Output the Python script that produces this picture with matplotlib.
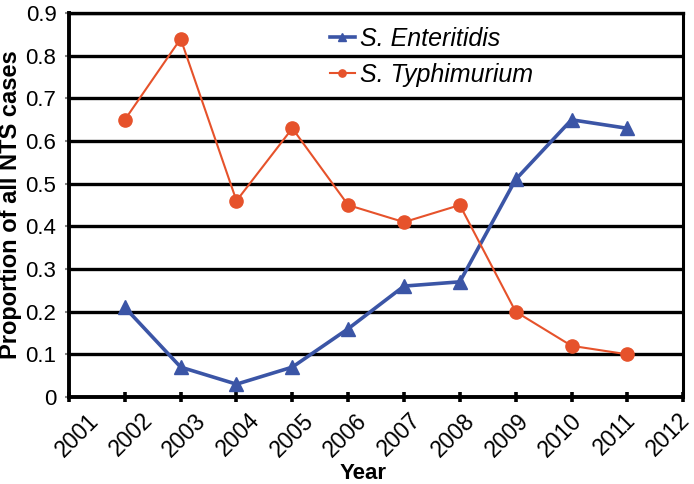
import numpy as np
import matplotlib.pyplot as plt
import matplotlib.transforms as mtrans

plt.rcParams['font.family'] = ['Liberation Sans', 'DejaVu Sans']

# values
years = [2002, 2003, 2004, 2005, 2006, 2007, 2008, 2009, 2010, 2011]
enteritidis = [0.21, 0.07, 0.03, 0.07, 0.16, 0.26, 0.27, 0.51, 0.65, 0.63]
typhimurium = [0.65, 0.84, 0.46, 0.63, 0.45, 0.41, 0.45, 0.20, 0.12, 0.10]
xticks = list(range(2001, 2013))
yticks = [0, 0.1, 0.2, 0.3, 0.4, 0.5, 0.6, 0.7, 0.8, 0.9]
ylabels = ['0', '0.1', '0.2', '0.3', '0.4', '0.5', '0.6', '0.7', '0.8', '0.9']

blue = '#3b55a6'
orange = '#e6522b'

fig = plt.figure(figsize=(6.94, 4.84), dpi=100)
ax = fig.add_axes([0.0994, 0.1798, 0.885, 0.793])

# thick black horizontal grid lines
for y in yticks[1:]:
    ax.axhline(y, color='black', lw=2.4, zorder=1)

ax.plot(years, enteritidis, color=blue, lw=2.6, marker='^', ms=10.5,
        label='S. Enteritidis', zorder=3)
ax.plot(years, typhimurium, color=orange, lw=1.5, marker='o', ms=9.5,
        label='S. Typhimurium', zorder=3)

ax.set_xlim(2001, 2012)
ax.set_ylim(0, 0.9)
ax.set_xticks(xticks)
ax.set_xticklabels([])
# year labels drawn by hand: in the original they drift left of their ticks
# a little more with every year
for i, x in enumerate(xticks):
    off = mtrans.ScaledTranslation((26 - 2.1 * i) / 100, -20 / 100, fig.dpi_scale_trans)
    ax.text(x, 0, str(x), transform=ax.get_xaxis_transform() + off,
            rotation=45, ha='right', va='center', rotation_mode='anchor',
            fontsize=16.5, clip_on=False)
ax.set_yticks(yticks)
ax.set_yticklabels(ylabels, fontsize=16)
ax.tick_params(axis='x', direction='inout', length=7, width=2.6)
ax.tick_params(axis='y', direction='out', length=3, width=1.5, color='#888888', pad=6)

for s in ['left', 'bottom']:
    ax.spines[s].set_linewidth(2.8)
ax.spines['right'].set_linewidth(2.2)
ax.spines['top'].set_linewidth(2.4)
ax.spines['bottom'].set_zorder(4)

ax.set_xlabel('Year', fontsize=16, fontweight='bold', va='top')
ax.xaxis.set_label_coords(0.479, -0.171)
ax.set_ylabel('Proportion of all NTS cases', fontsize=17, fontweight='bold', va='center')
ax.yaxis.set_label_coords(-0.096, 0.5)

leg = ax.legend(loc='upper left', bbox_to_anchor=(0.4755, 0.945),
                bbox_transform=fig.transFigure, frameon=False,
                prop={'style': 'italic', 'size': 18}, handlelength=1.0,
                handletextpad=0.2, labelspacing=0.5, borderpad=0,
                borderaxespad=0, markerscale=0.55)

fig.savefig('out.png', dpi=100)
